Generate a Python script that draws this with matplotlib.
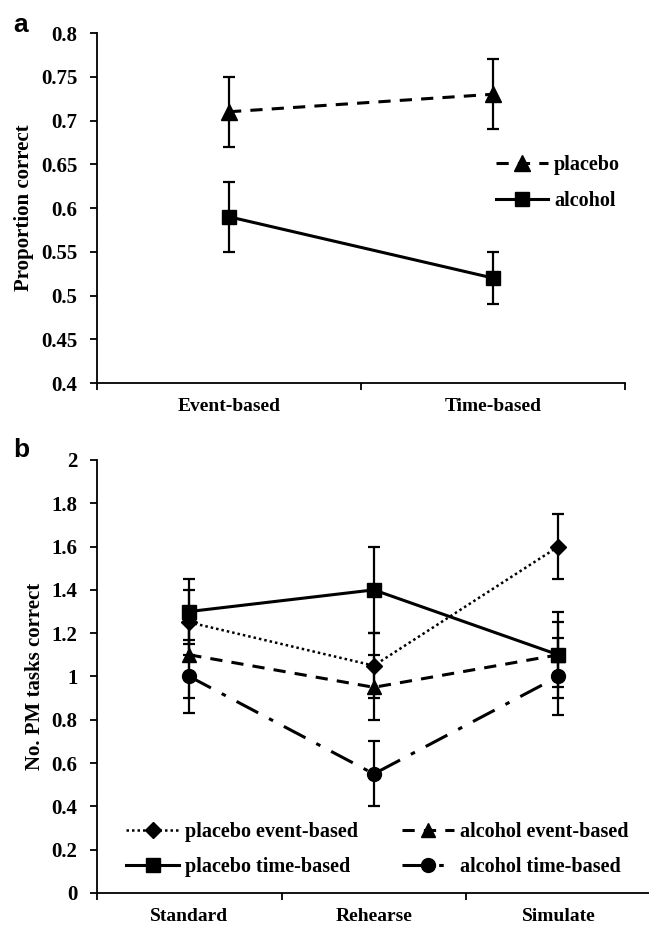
import numpy as np
import matplotlib
matplotlib.use("Agg")
import matplotlib.pyplot as plt

# panel a data
cats_a = ["Event-based", "Time-based"]
placebo_a = [0.71, 0.73]
placebo_a_err = [0.04, 0.04]
alcohol_a = [0.59, 0.52]
alcohol_a_err = [0.04, 0.03]

# panel b data
cats_b = ["Standard", "Rehearse", "Simulate"]
pl_event = [1.25, 1.05, 1.6]
pl_event_err = [0.15, 0.15, 0.15]
al_event = [1.1, 0.95, 1.1]
al_event_err = [0.2, 0.15, 0.15]
pl_time = [1.3, 1.4, 1.1]
pl_time_err = [0.15, 0.2, 0.2]
al_time = [1.0, 0.55, 1.0]
al_time_err = [0.17, 0.15, 0.18]

yticks_a = [0.4, 0.45, 0.5, 0.55, 0.6, 0.65, 0.7, 0.75, 0.8]
yticks_b = [0, 0.2, 0.4, 0.6, 0.8, 1, 1.2, 1.4, 1.6, 1.8, 2]

SERIF = "Liberation Serif"
FS = 15


def style_axes(ax, ncat, yticks):
    ax.spines["top"].set_visible(False)
    ax.spines["right"].set_visible(False)
    for s in ["left", "bottom"]:
        ax.spines[s].set_linewidth(1.3)
    ax.set_xlim(-0.5, ncat - 0.5)
    ax.set_xticks(np.arange(ncat + 1) - 0.5)
    ax.set_xticklabels([])
    ax.tick_params(axis="x", which="major", direction="out", length=5, width=1.3)
    ax.set_yticks(yticks)
    ax.set_yticklabels([("%g" % t) for t in yticks], fontfamily=SERIF,
                       fontweight="bold", fontsize=FS)
    ax.tick_params(axis="y", direction="out", length=5, width=1.3, pad=9)


def cat_labels(ax, labels):
    ax.set_xticks(np.arange(len(labels)), minor=True)
    ax.set_xticklabels(labels, minor=True, fontfamily=SERIF,
                       fontweight="bold", fontsize=14)
    ax.tick_params(axis="x", which="minor", length=0, pad=11)


def main():
    fig = plt.figure(figsize=(6.49, 9.27), dpi=100)
    lprop = {"family": SERIF, "weight": "bold", "size": 14.5}

    ## panel a
    ax = fig.add_axes([0.1495, 0.5868, 0.8135, 0.3776])
    x = np.arange(len(cats_a))
    ax.errorbar(x, placebo_a, yerr=placebo_a_err, color="black", lw=2.2,
                ls=(0, (4, 3)), marker="^", ms=11, capsize=4, elinewidth=1.6,
                capthick=1.6, label="placebo")
    ax.errorbar(x, alcohol_a, yerr=alcohol_a_err, color="black", lw=2.2,
                ls="-", marker="s", ms=10, capsize=4, elinewidth=1.6,
                capthick=1.6, label="alcohol")
    ax.set_ylim(0.4, 0.8)
    style_axes(ax, len(cats_a), yticks_a)
    cat_labels(ax, cats_a)
    ax.set_ylabel("Proportion correct", fontfamily=SERIF, fontweight="bold",
                  fontsize=15, labelpad=5)
    h, l = ax.get_legend_handles_labels()
    h = [hh[0] for hh in h]
    ax.legend(h, l, loc="upper left", bbox_to_anchor=(0.755, 0.652),
              frameon=False, prop=lprop,
              handlelength=2.6, handletextpad=0.3, labelspacing=0.8,
              borderaxespad=0, borderpad=0, numpoints=1)
    fig.text(0.02, 0.973, "a", fontfamily="Liberation Sans", fontweight="bold",
             fontsize=19, va="center")

    ## panel b
    ax = fig.add_axes([0.1495, 0.0367, 0.853, 0.4671])
    x = np.arange(len(cats_b))
    kw = dict(color="black", capsize=4, elinewidth=1.6, capthick=1.6)
    ax.errorbar(x, pl_event, yerr=pl_event_err, lw=1.8, ls=(0, (1, 1.2)),
                marker="D", ms=8, label="placebo event-based", **kw)
    ax.errorbar(x, pl_time, yerr=pl_time_err, lw=2.2, ls="-",
                marker="s", ms=10, label="placebo time-based", **kw)
    ax.errorbar(x, al_event, yerr=al_event_err, lw=2.2, ls=(0, (4, 3)),
                marker="^", ms=10, label="alcohol event-based", **kw)
    ax.errorbar(x, al_time, yerr=al_time_err, lw=2.2, ls=(0, (8, 4, 1.5, 4)),
                marker="o", ms=10, label="alcohol time-based", **kw)
    ax.set_ylim(0, 2)
    style_axes(ax, len(cats_b), yticks_b)
    cat_labels(ax, cats_b)
    ax.set_ylabel("No. PM tasks correct", fontfamily=SERIF, fontweight="bold",
                  fontsize=15, labelpad=5)
    h, l = ax.get_legend_handles_labels()
    h = [hh[0] for hh in h]
    ax.legend(h, l, ncol=2, loc="upper left", bbox_to_anchor=(0.053, 0.164),
              frameon=False, prop=lprop,
              handlelength=2.6, handletextpad=0.3, labelspacing=0.75,
              columnspacing=2.2, borderaxespad=0, borderpad=0, numpoints=1)
    fig.text(0.02, 0.5146, "b", fontfamily="Liberation Sans", fontweight="bold",
             fontsize=19, va="center")

    fig.savefig("out.png", dpi=100)
    plt.close()


if __name__ == "__main__":
    main()
